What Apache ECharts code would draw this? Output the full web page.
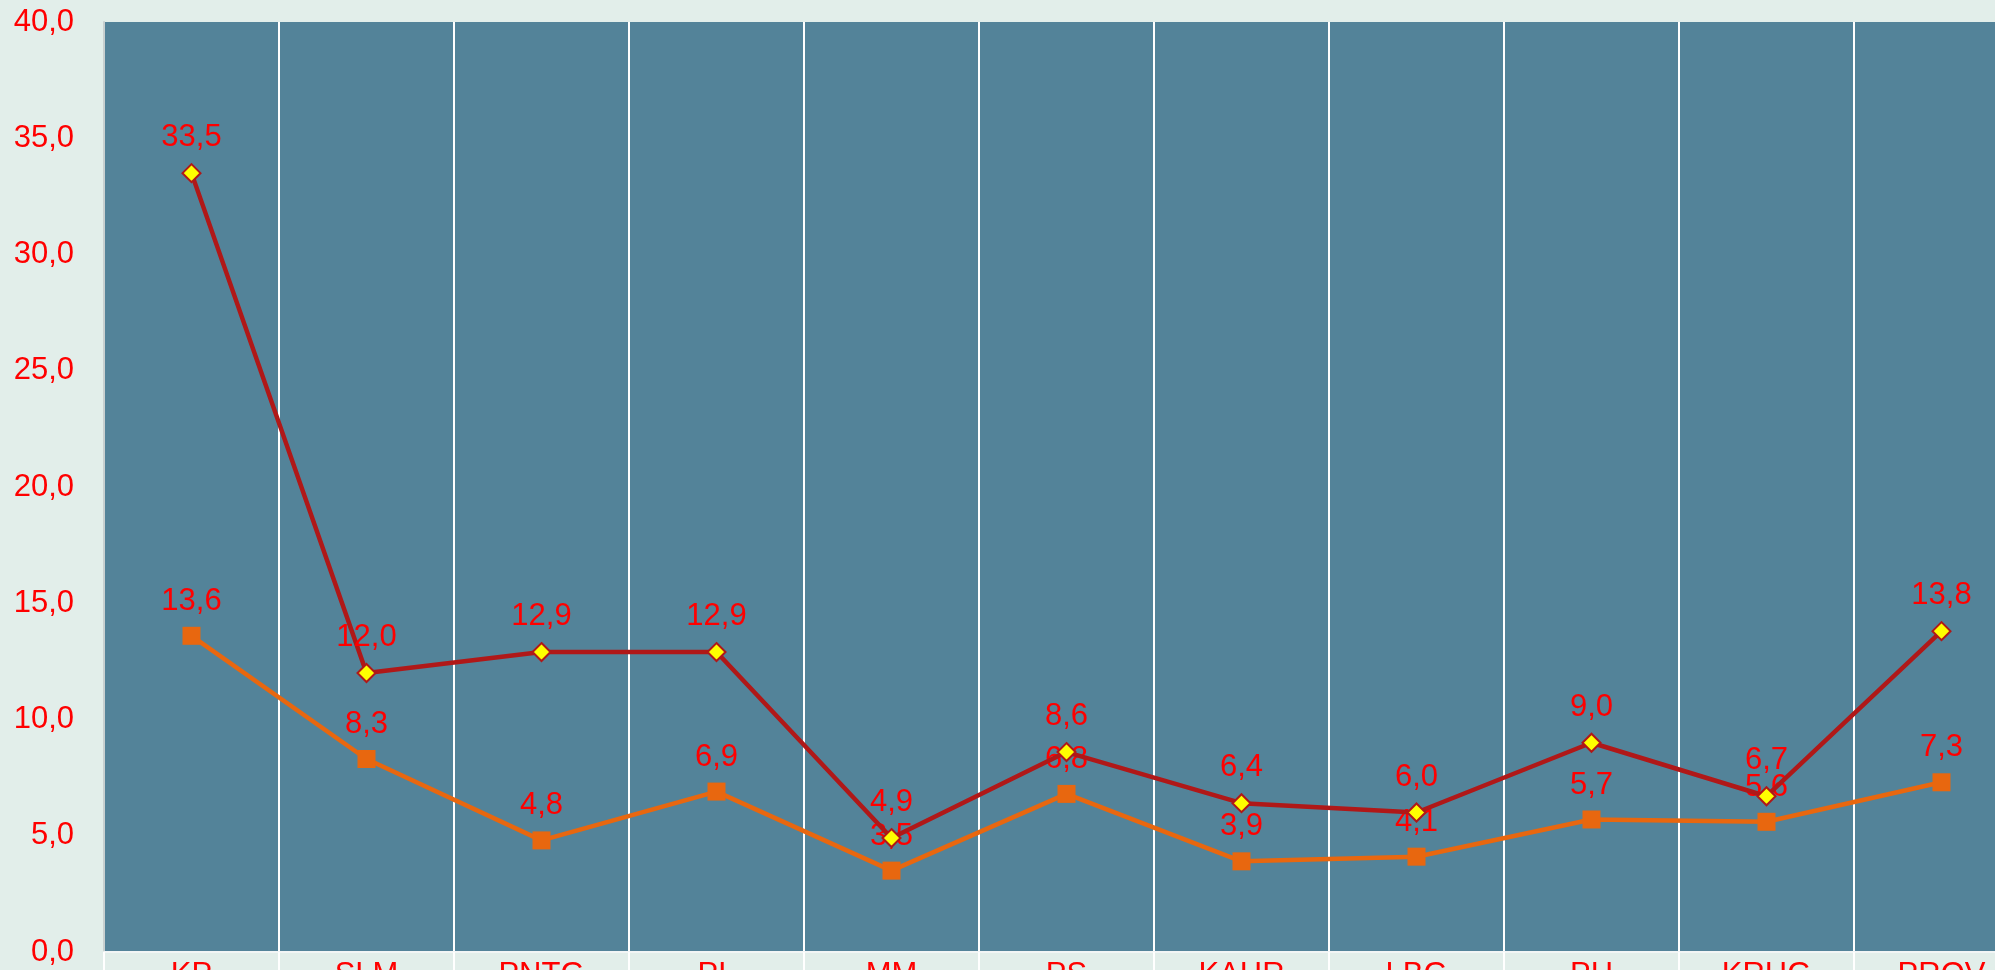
<!DOCTYPE html>
<html>
<head>
<meta charset="utf-8">
<script src="https://cdn.jsdelivr.net/npm/echarts@6/dist/echarts.min.js"></script>
<style>
html,body{margin:0;padding:0;background:#E2EEEA;overflow:hidden;}
#c{width:1995px;height:970px;}
</style>
</head>
<body>
<div id="c"></div>
<script>
const categories = ['KP','SLM','PNTG','PL','MM','PS','KAHR','LBG','PH','KRHG','PROV'];
const seriesRed = [33.5, 12.0, 12.9, 12.9, 4.9, 8.6, 6.4, 6.0, 9.0, 6.7, 13.8];
const seriesOrange = [13.6, 8.3, 4.8, 6.9, 3.5, 6.8, 3.9, 4.1, 5.7, 5.6, 7.3];
const yMin = 0, yMax = 40, yStep = 5;

const fmt = v => Number(v).toFixed(1).replace('.', ',');
const FONT = '"Liberation Sans", Arial, sans-serif';

const chart = echarts.init(document.getElementById('c'));
chart.setOption({
  animation: false,
  backgroundColor: '#E2EEEA',
  grid: {
    show: true,
    left: 104, top: 22, width: 1925, height: 930,
    containLabel: false,
    outerBoundsMode: 'none',
    backgroundColor: '#538399',
    borderWidth: 0
  },
  xAxis: {
    type: 'category',
    data: categories,
    boundaryGap: true,
    axisLine: { show: true, lineStyle: { color: '#F2F5F5', width: 2 } },
    axisTick: { show: true, length: 22, lineStyle: { color: '#FFFFFF', width: 2 } },
    splitLine: { show: true, lineStyle: { color: '#FFFFFF', width: 2 } },
    axisLabel: { color: '#FF0000', fontSize: 31, fontFamily: FONT, margin: 8 }
  },
  yAxis: {
    type: 'value',
    min: yMin, max: yMax, interval: yStep,
    axisLine: { show: true, lineStyle: { color: '#C8D0D0', width: 2 } },
    axisTick: { show: false },
    splitLine: { show: false },
    axisLabel: { color: '#FF0000', fontSize: 31, fontFamily: FONT, margin: 30, formatter: fmt }
  },
  series: [
    {
      type: 'line',
      data: seriesOrange,
      symbol: 'rect',
      symbolSize: 18,
      lineStyle: { color: '#E8670F', width: 4.5 },
      itemStyle: { color: '#E8670F', borderColor: '#E8670F', borderWidth: 0 },
      label: { show: true, position: 'top', distance: 10, color: '#FF0000', fontSize: 31, fontFamily: FONT, formatter: p => fmt(p.value) },
      z: 2
    },
    {
      type: 'line',
      data: seriesRed,
      symbol: 'diamond',
      symbolSize: 18,
      lineStyle: { color: '#B01818', width: 4.5 },
      itemStyle: { color: '#FFFF00', borderColor: '#B01818', borderWidth: 2 },
      label: { show: true, position: 'top', distance: 10, color: '#FF0000', fontSize: 31, fontFamily: FONT, formatter: p => fmt(p.value) },
      z: 3
    }
  ]
});
</script>
</body>
</html>
